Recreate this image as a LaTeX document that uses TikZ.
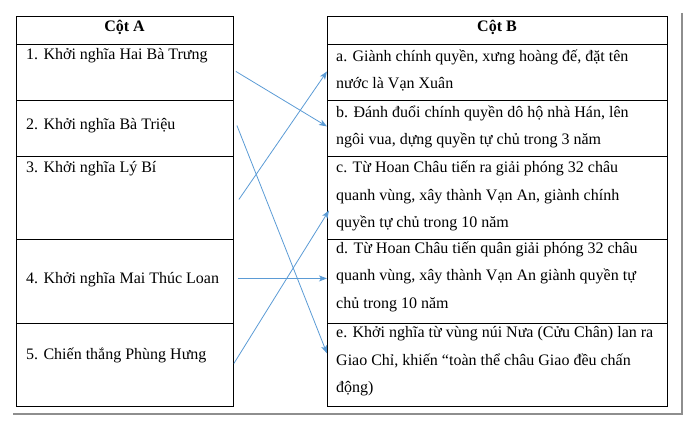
\documentclass[tikz,border=0pt]{standalone}
\usepackage{fontspec}
\setmainfont{Liberation Serif}
\usetikzlibrary{arrows.meta}
\definecolor{arrowblue}{HTML}{5B9BD5}
\definecolor{shadowgray}{HTML}{8E8E8E}
\begin{document}
\begin{tikzpicture}[x=1pt,y=-1pt,
  cellA/.style={draw,line width=0.9pt,anchor=north west,inner sep=0pt,minimum width=217pt,minimum height=#1},
  cellB/.style={draw,line width=0.9pt,anchor=north west,inner sep=0pt,minimum width=340pt,minimum height=#1},
  txt/.style={anchor=base west,inner sep=0pt,align=left,font=\fontsize{16}{27.3}\selectfont},
  head/.style={anchor=base,inner sep=0pt,font=\fontsize{16}{20}\selectfont\bfseries},
  conn/.style={draw=arrowblue,line width=0.8pt,-{Stealth[length=8pt,width=6pt,inset=2pt]}},
  shadow/.style={draw=shadowgray,line width=2.5pt}]
\useasboundingbox (0,0) rectangle (693,425);
% shadow
\draw[shadow] (682,13) -- (682,415);
\draw[shadow] (13,414) -- (683,414);
% left table
\node[cellA=28pt] (hA) at (16,16) {};
\node[cellA=56pt] (a1) at (16,44) {};
\node[cellA=56pt] (a2) at (16,100) {};
\node[cellA=83pt] (a3) at (16,156) {};
\node[cellA=84pt] (a4) at (16,239) {};
\node[cellA=83pt] (a5) at (16,323) {};
% right table
\node[cellB=28pt] (hB) at (327,16) {};
\node[cellB=56pt] (b1) at (327,44) {};
\node[cellB=56pt] (b2) at (327,100) {};
\node[cellB=83pt] (b3) at (327,156) {};
\node[cellB=84pt] (b4) at (327,239) {};
\node[cellB=83pt] (b5) at (327,323) {};
% headers
\node[head] (thA) at (124.5,32) {Cột A};
\node[head] (thB) at (497,32) {Cột B};
% column A text
\node[txt] (ta1) at (26,60) {1. Khởi nghĩa Hai Bà Trưng};
\node[txt] (ta2) at (26,130) {2. Khởi nghĩa Bà Triệu};
\node[txt] (ta3) at (26,172) {3. Khởi nghĩa Lý Bí};
\node[txt] (ta4) at (26,283) {4. Khởi nghĩa Mai Thúc Loan};
\node[txt] (ta5) at (26,359) {5. Chiến thắng Phùng Hưng};
% column B text (anchored at the baseline of the last line)
\node[txt] (tb1) at (336,88.5) {a. Giành chính quyền, xưng hoàng đế, đặt tên\\nước là Vạn Xuân};
\node[txt] (tb2) at (336,144.5) {b. Đánh đuổi chính quyền dô hộ nhà Hán, lên\\ngôi vua, dựng quyền tự chủ trong 3 năm};
\node[txt] (tb3) at (336,227.5) {c. Từ Hoan Châu tiến ra giải phóng 32 châu\\quanh vùng, xây thành Vạn An, giành chính\\quyền tự chủ trong 10 năm};
\node[txt] (tb4) at (336,308) {d. Từ Hoan Châu tiến quân giải phóng 32 châu\\quanh vùng, xây thành Vạn An giành quyền tự\\chủ trong 10 năm};
\node[txt] (tb5) at (336,392.5) {e. Khởi nghĩa từ vùng núi Nưa (Cửu Chân) lan ra\\Giao Chỉ, khiến “toàn thể châu Giao đều chấn\\động)};
% connectors
\draw[conn] ([xshift=2pt,yshift=1pt]a1.east) -- ([yshift=2pt]b2.west);
\draw[conn] ([xshift=3pt,yshift=3pt]a2.east) -- ([yshift=11.5pt]b5.west);
\draw[conn] ([xshift=5pt,yshift=-1.5pt]a3.east) -- ([yshift=1pt]b1.west);
\draw[conn] ([xshift=4pt,yshift=3pt]a4.east) -- ([yshift=3pt]b4.west);
\draw[conn] ([yshift=1.5pt]a5.east) -- ([xshift=2pt,yshift=-12.5pt]b3.west);
\end{tikzpicture}
\end{document}
